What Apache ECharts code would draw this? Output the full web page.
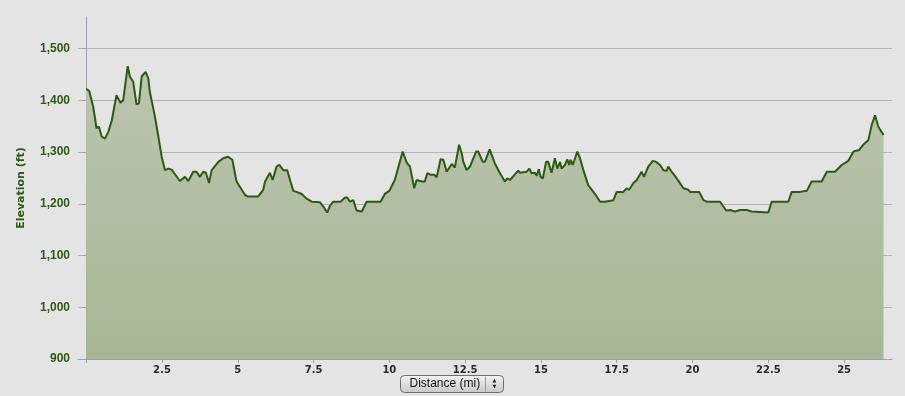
<!DOCTYPE html>
<html>
<head>
<meta charset="utf-8">
<script src="https://cdn.jsdelivr.net/npm/echarts@6/dist/echarts.min.js"></script>
<style>
html,body{margin:0;padding:0;background:#e4e4e4;}
#chart{width:905px;height:396px;}
</style>
</head>
<body>
<div id="chart"></div>
<script>
// Distance along the route (mi)
const distances = [
 0, 0.10, 0.23, 0.34, 0.42, 0.51, 0.62, 0.73, 0.84, 1.00, 1.13, 1.22, 1.37, 1.44, 1.55, 1.66, 1.74, 1.83, 1.88, 1.96,
 2.05, 2.10, 2.16, 2.27, 2.38, 2.49, 2.60, 2.71, 2.82, 2.93, 3.09, 3.26, 3.37, 3.53, 3.64, 3.75, 3.86, 3.95, 4.05, 4.14,
 4.36, 4.52, 4.68, 4.74, 4.82, 4.96, 5.24, 5.34, 5.67, 5.84, 5.90, 6.06, 6.15, 6.28, 6.37, 6.50, 6.63, 6.74, 6.83, 6.94,
 7.11, 7.27, 7.44, 7.71, 7.84, 7.95, 8.04, 8.15, 8.39, 8.54, 8.61, 8.70, 8.81, 8.92, 9.09, 9.14, 9.25, 9.71, 9.85, 10.00,
 10.18, 10.33, 10.44, 10.57, 10.68, 10.74, 10.82, 10.90, 11.07, 11.17, 11.25, 11.37, 11.48, 11.56, 11.69, 11.78, 11.89, 12.06, 12.16, 12.30,
 12.39, 12.44, 12.55, 12.66, 12.86, 12.93, 13.08, 13.15, 13.31, 13.48, 13.65, 13.81, 13.89, 13.98, 14.25, 14.31, 14.53, 14.62, 14.69, 14.80,
 14.86, 14.93, 14.99, 15.06, 15.17, 15.24, 15.35, 15.46, 15.54, 15.63, 15.68, 15.79, 15.87, 15.93, 15.98, 16.05, 16.20, 16.29, 16.40, 16.56,
 16.73, 16.84, 16.95, 17.11, 17.17, 17.39, 17.50, 17.72, 17.83, 17.91, 18.05, 18.16, 18.32, 18.40, 18.54, 18.69, 18.80, 18.93, 19.04, 19.15,
 19.20, 19.31, 19.48, 19.70, 19.86, 19.92, 20.22, 20.36, 20.47, 20.91, 21.11, 21.24, 21.40, 21.57, 21.79, 21.95, 22.50, 22.61, 23.16, 23.27,
 23.55, 23.77, 23.93, 24.26, 24.43, 24.70, 24.92, 25.14, 25.31, 25.50, 25.63, 25.80, 25.91, 26.02, 26.13, 26.30
];
// Elevation (ft)
const elevations = [
 1422, 1418, 1388, 1346, 1349, 1330, 1326, 1339, 1360, 1410, 1395, 1400, 1466, 1446, 1436, 1392, 1394, 1446, 1449, 1455,
 1442, 1416, 1413, 1368, 1330, 1291, 1265, 1268, 1266, 1257, 1244, 1252, 1244, 1262, 1262, 1252, 1262, 1260, 1240, 1265,
 1281, 1288, 1291, 1294, 1285, 1243, 1217, 1214, 1214, 1227, 1243, 1260, 1246, 1272, 1275, 1265, 1265, 1243, 1225, 1223,
 1219, 1210, 1204, 1203, 1193, 1183, 1196, 1204, 1204, 1212, 1212, 1204, 1207, 1187, 1185, 1187, 1204, 1204, 1219, 1225,
 1246, 1278, 1301, 1280, 1272, 1275, 1230, 1246, 1243, 1243, 1259, 1256, 1256, 1251, 1286, 1285, 1262, 1277, 1270, 1314,
 1297, 1281, 1265, 1272, 1301, 1301, 1281, 1281, 1305, 1278, 1259, 1243, 1249, 1246, 1264, 1260, 1262, 1268, 1259, 1260,
 1254, 1267, 1252, 1249, 1281, 1281, 1260, 1288, 1268, 1281, 1268, 1275, 1286, 1275, 1285, 1275, 1301, 1288, 1265, 1236,
 1223, 1214, 1204, 1204, 1207, 1207, 1223, 1223, 1230, 1227, 1240, 1246, 1262, 1252, 1272, 1283, 1281, 1275, 1265, 1264,
 1272, 1262, 1249, 1230, 1227, 1223, 1223, 1207, 1204, 1204, 1187, 1188, 1185, 1188, 1188, 1185, 1183, 1204, 1204, 1223,
 1223, 1225, 1243, 1243, 1262, 1262, 1275, 1283, 1301, 1304, 1314, 1323, 1352, 1371, 1349, 1333
];
// Axis tick values
const xTickValues = [0, 2.5, 5, 7.5, 10, 12.5, 15, 17.5, 20, 22.5, 25];
const xLabelValues = [2.5, 5, 7.5, 10, 12.5, 15, 17.5, 20, 22.5, 25];
const yTickValues = [900, 1000, 1100, 1200, 1300, 1400, 1500];
const xAxisTitle = 'Distance (mi)';
const yAxisTitle = 'Elevation (ft)';

const seriesData = distances.map((d, i) => [d, elevations[i]]);

const chart = echarts.init(document.getElementById('chart'), null, {renderer: 'canvas'});
chart.setOption({
  backgroundColor: '#e4e4e4',
  animation: false,
  grid: {left: 78, right: 13, top: 17, bottom: 37, containLabel: false, outerBoundsMode: 'none'},
  xAxis: {
    type: 'value',
    min: -0.27,
    max: 26.58,
    axisLine: {show: true, lineStyle: {color: '#9ca0a8', width: 1}},
    axisTick: {show: true, length: 4, customValues: xTickValues, lineStyle: {color: '#9ca0a8'}},
    axisLabel: {
      customValues: xLabelValues,
      margin: 6,
      color: '#2a2a2a',
      fontFamily: 'DejaVu Sans',
      fontWeight: 'bold',
      fontSize: 10,
      formatter: v => String(v)
    },
    splitLine: {show: false}
  },
  yAxis: {
    type: 'value',
    min: 900,
    max: 1561,
    interval: 100,
    name: yAxisTitle,
    nameLocation: 'middle',
    nameRotate: 90,
    nameGap: 51,
    nameTextStyle: {color: '#2d5a14', fontFamily: 'DejaVu Sans', fontWeight: 'bold', fontSize: 11},
    axisLine: {show: true, lineStyle: {color: '#9ca0a8', width: 1}},
    axisTick: {show: true, length: 4, customValues: yTickValues, lineStyle: {color: '#9ca0a8'}},
    axisLabel: {
      customValues: yTickValues,
      margin: 8,
      color: '#2d5a14',
      fontFamily: 'Liberation Sans',
      fontWeight: 'bold',
      fontSize: 12,
      formatter: v => v.toLocaleString('en-US')
    },
    splitLine: {show: true, lineStyle: {color: '#b4b4b4', width: 1}}
  },
  series: [{
    type: 'line',
    data: seriesData,
    showSymbol: false,
    symbol: 'none',
    lineStyle: {color: '#2b5a10', width: 2},
    areaStyle: {
      origin: 'start',
      opacity: 1,
      color: new echarts.graphic.LinearGradient(0, 0, 0, 1, [
        {offset: 0, color: '#bcc5b0'},
        {offset: 1, color: '#a7b795'}
      ])
    },
    z: 3
  }],
  graphic: [{
    type: 'group',
    left: 400,
    top: 374,
    children: [
      {
        type: 'rect',
        shape: {x: 0, y: 0, width: 103, height: 17, r: 4},
        style: {
          fill: new echarts.graphic.LinearGradient(0, 0, 0, 1, [
            {offset: 0, color: '#f4f4f4'},
            {offset: 0.5, color: '#dedede'},
            {offset: 1, color: '#c8c8c8'}
          ]),
          stroke: '#6e6e6e',
          lineWidth: 1
        }
      },
      {
        type: 'text',
        x: 9, y: 8.5,
        style: {text: xAxisTitle, fill: '#111', font: '12px "Liberation Sans"', verticalAlign: 'middle', align: 'left'}
      },
      {
        type: 'line',
        shape: {x1: 85, y1: 1, x2: 85, y2: 16},
        style: {stroke: '#9a9a9a', lineWidth: 1}
      },
      {
        type: 'text',
        x: 94, y: 8.5,
        style: {text: '▲\n▼', fill: '#222', font: '5px "DejaVu Sans"', lineHeight: 6, align: 'center', verticalAlign: 'middle'}
      }
    ]
  }]
});
</script>
</body>
</html>
